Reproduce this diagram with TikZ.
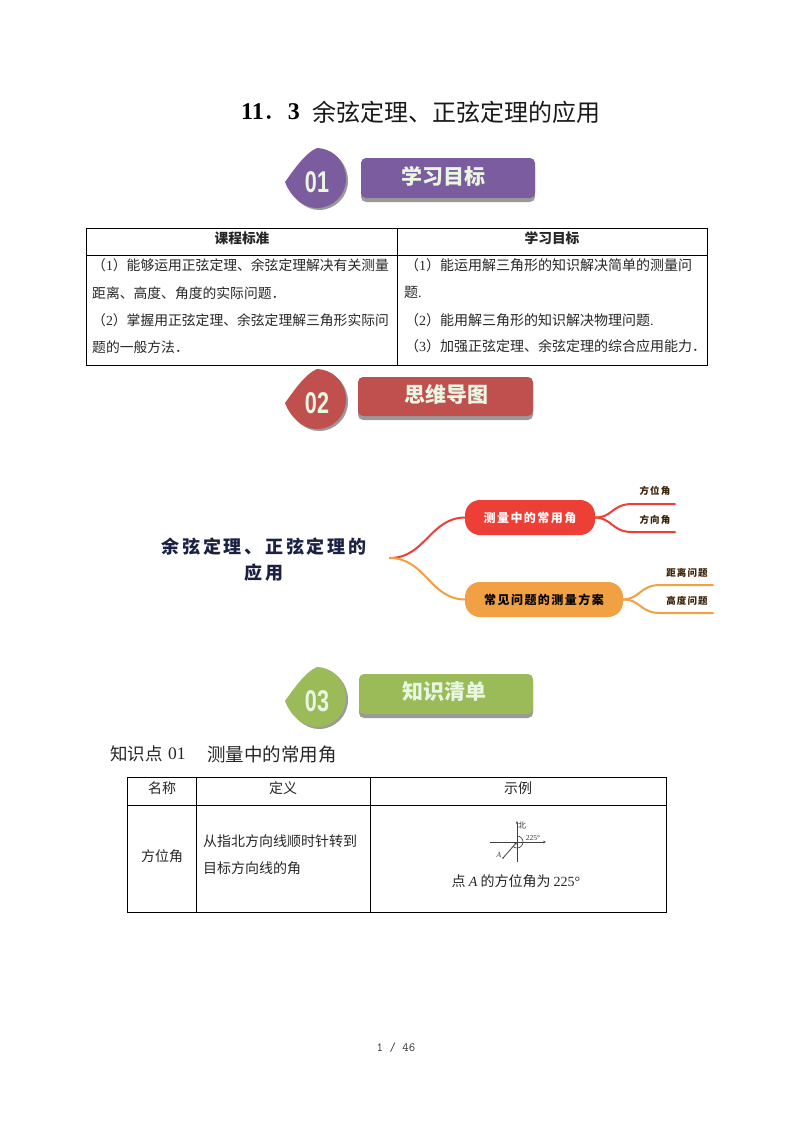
\documentclass[tikz,border=0pt]{standalone}
\usepackage{fontspec}
\usetikzlibrary{arrows.meta}
\setmainfont{Liberation Serif}
\newfontfamily\cjk{Noto Sans CJK SC}
\newfontfamily\cjkw[LetterSpace=15]{Noto Sans CJK SC}
\newfontfamily\cjks[LetterSpace=12]{Noto Sans CJK SC}
\newfontfamily\numf{Liberation Sans}
\newcommand{\fsz}[1]{\fontsize{#1}{#1}\selectfont}
\definecolor{bpurple}{HTML}{7B5C9E}
\definecolor{bred}{HTML}{C0504D}
\definecolor{bgreen}{HTML}{9BBB59}
\definecolor{bshadow}{HTML}{9A9A9A}
\definecolor{bannertext}{HTML}{E9F6E2}
\definecolor{mmred}{HTML}{EE3F36}
\definecolor{mmorange}{HTML}{F2A044}
\definecolor{mmnavy}{HTML}{1B2145}
\definecolor{mmbrown}{HTML}{3A2208}
\tikzset{
  txt/.style={anchor=west,inner sep=0pt,font=\cjk\fsz{13.8},text=black!85},
  txtr/.style={anchor=west,inner sep=0pt,font=\cjk\fsz{14},text=black!85},
  ctr/.style={anchor=center,inner sep=0pt,font=\cjk\fsz{14},text=black!85},
  tline/.style={draw=black,line width=0.9pt},
  mmline/.style={line width=2pt,line cap=round},
  banner/.style={anchor=center,inner sep=0pt,font=\cjk\bfseries\fsz{21},text=bannertext},
  numtxt/.style={anchor=center,inner sep=0pt,font=\numf\bfseries\fsz{30},text=bannertext,xscale=0.72},
  leaf/.style={anchor=center,inner sep=0pt,font=\cjks\bfseries\fsz{9.5},text=mmbrown},
  pill/.style={rounded corners=15pt,inner sep=0pt,anchor=center,font=\cjks\bfseries\fsz{12}},
}
\newcommand{\badge}[5]{%
  \fill[bshadow,shift={(#1+2,#2+2)}] (-32,3) .. controls (-24,-8) and (-12,-26) .. (0,-31) .. controls (18,-30) and (29,-16) .. (29,0) .. controls (29,16) and (16,29) .. (0,29) .. controls (-14,29) and (-27,17) .. (-32,3) -- cycle;
  \fill[#3,shift={(#1,#2)}] (-32,3) .. controls (-24,-8) and (-12,-26) .. (0,-31) .. controls (18,-30) and (29,-16) .. (29,0) .. controls (29,16) and (16,29) .. (0,29) .. controls (-14,29) and (-27,17) .. (-32,3) -- cycle;
  \node[numtxt] (#5) at (#1,#2+3) {#4};
}
\newcommand{\bannerbox}[7]{%
  \fill[bshadow,rounded corners=5pt] (#1,#2+4) rectangle (#3,#4+4);
  \fill[#5,rounded corners=5pt] (#1,#2) rectangle (#3,#4);
  \node[banner] at (#7,{(#2+#4)/2-2}) {#6};
}
\begin{document}
\begin{tikzpicture}[x=1pt,y=-1pt]
\useasboundingbox[fill=white] (0,0) rectangle (793,1122);

% title
\node[anchor=west,inner sep=0pt,font=\bfseries\fsz{24},text=black] (title1) at (241,112) {11{\cjk\mdseries ．}3};
\node[anchor=west,inner sep=0pt,font=\cjk\fsz{24},text=black!90] (title2) at (312,112) {余弦定理、正弦定理的应用};

% section 1
\badge{317}{179}{bpurple}{01}{num1}
\bannerbox{361}{158}{535}{198}{bpurple}{学习目标}{443}

% table 1
\draw[tline] (86,228) rectangle (707,365);
\draw[tline] (86,255.5) -- (707,255.5);
\draw[tline] (397,228) -- (397,365);
\node[ctr,font=\cjk\bfseries\fsz{13.7}] (h1) at (242,238) {课程标准};
\node[ctr,font=\cjk\bfseries\fsz{13.7}] (h2) at (552,238) {学习目标};
\node[txt] (l1) at (92,265) {（{\rmfamily 1}）能够运用正弦定理、余弦定理解决有关测量};
\node[txt] (l2) at (92,293) {距离、高度、角度的实际问题．};
\node[txt] (l3) at (92,320) {（{\rmfamily 2}）掌握用正弦定理、余弦定理解三角形实际问};
\node[txt] (l4) at (92,347) {题的一般方法．};
\node[txtr] (r1) at (405,265) {（{\rmfamily 1}）能运用解三角形的知识解决简单的测量问};
\node[txtr] (r2) at (404,292) {题{\rmfamily .}};
\node[txtr] (r3) at (405,320) {（{\rmfamily 2}）能用解三角形的知识解决物理问题{\rmfamily .}};
\node[txtr] (r4) at (405,346) {（{\rmfamily 3}）加强正弦定理、余弦定理的综合应用能力．};

% section 2
\badge{317}{400}{bred}{02}{num2}
\bannerbox{358}{377}{533}{416}{bred}{思维导图}{446}

% mind map
\node[anchor=center,inner sep=0pt,font=\cjkw\bfseries\fsz{18},text=mmnavy] (root1) at (264,547) {余弦定理、正弦定理的};
\node[anchor=center,inner sep=0pt,font=\cjkw\bfseries\fsz{18},text=mmnavy] (root2) at (264,573) {应用};
\coordinate (hub) at (390,558);
\node[pill,fill=mmred,text=white,minimum width=130pt,minimum height=35pt] (redp) at (530,517.5) {测量中的常用角};
\node[pill,fill=mmorange,text=black,minimum width=158pt,minimum height=35pt] (orap) at (544,599.5) {常见问题的测量方案};
\coordinate (e1) at (675,504);
\coordinate (e2) at (675,532);
\coordinate (e3) at (713,585);
\coordinate (e4) at (713,613);
\coordinate (m1) at (632,504);
\coordinate (m2) at (632,532);
\coordinate (m3) at (660,585);
\coordinate (m4) at (660,613);
\draw[mmline,mmred] (hub) .. controls (425,558) and (430,518) .. (redp.west);
\draw[mmline,mmorange] (hub) .. controls (425,558) and (430,599) .. (orap.west);
\draw[mmline,mmred] (redp.east) .. controls (612,518) and (612,504) .. (m1) -- (e1);
\draw[mmline,mmred] (redp.east) .. controls (612,518) and (612,532) .. (m2) -- (e2);
\draw[mmline,mmorange] (orap.east) .. controls (640,599) and (640,585) .. (m3) -- (e3);
\draw[mmline,mmorange] (orap.east) .. controls (640,599) and (640,613) .. (m4) -- (e4);
\node[leaf] (lf1) at (655,491) {方位角};
\node[leaf] (lf2) at (655,519.5) {方向角};
\node[leaf] (lf3) at (687,572.5) {距离问题};
\node[leaf] (lf4) at (687,601) {高度问题};

% section 3
\badge{317}{698}{bgreen}{03}{num3}
\bannerbox{359}{674}{533}{714}{bgreen}{知识清单}{444}

\node[anchor=west,inner sep=0pt,font=\cjk\fsz{17.5},text=black!85] (kp1) at (110,754) {知识点};
\node[anchor=west,inner sep=0pt,font=\fsz{17.5},text=black!85] (kp2) at (168,754) {01};
\node[anchor=west,inner sep=0pt,font=\cjk\fsz{18.5},text=black!85] (kp3) at (207,754) {测量中的常用角};

% table 2
\draw[tline] (127,777) rectangle (666,912);
\draw[tline] (127,805) -- (666,805);
\draw[tline] (196,777) -- (196,912);
\draw[tline] (370,777) -- (370,912);
\node[ctr] (t1) at (162,788) {名称};
\node[ctr] (t2) at (283,788) {定义};
\node[ctr] (t3) at (518,788) {示例};
\node[ctr] (t4) at (162,856) {方位角};
\node[txtr] (t5) at (203,841) {从指北方向线顺时针转到};
\node[txtr] (t6) at (203,868) {目标方向线的角};
\node[ctr] (t7) at (516,881) {点 {\rmfamily\itshape A} 的方位角为 {\rmfamily 225°}};

% compass figure
\coordinate (o) at (517,842);
\coordinate (w) at (490,842);
\coordinate (ee) at (546,842);
\coordinate (n) at (517,821);
\coordinate (s) at (517,862);
\coordinate (pa) at (503,858);
\draw[line width=0.6pt,draw=black!75,-{Stealth[length=3pt,width=2.5pt]}] (w) -- (ee);
\draw[line width=0.6pt,draw=black!75,-{Stealth[length=3pt,width=2.5pt]}] (s) -- (n);
\draw[line width=0.8pt,draw=black!75,{Stealth[length=3pt,width=2.5pt]}-] (o) -- (pa);
\fill[black!75] (pa) circle (0.8);
\draw[line width=0.6pt,draw=black!75] (517,836) arc[start angle=-90,end angle=135,radius=6];
\node[anchor=center,inner sep=0pt,font=\cjk\fsz{8},text=black!80] (nb) at (522,825) {北};
\node[anchor=center,inner sep=0pt,font=\fsz{7.5},text=black!80] (deg) at (533,838) {225°};
\node[anchor=center,inner sep=0pt,font=\itshape\fsz{7.5},text=black!80] (la) at (499,855) {A};

% page number
\node[anchor=center,inner sep=0pt,font=\ttfamily\fsz{12.5},text=black!80] (pg) at (396,1048) {1 / 46};
\end{tikzpicture}
\end{document}
